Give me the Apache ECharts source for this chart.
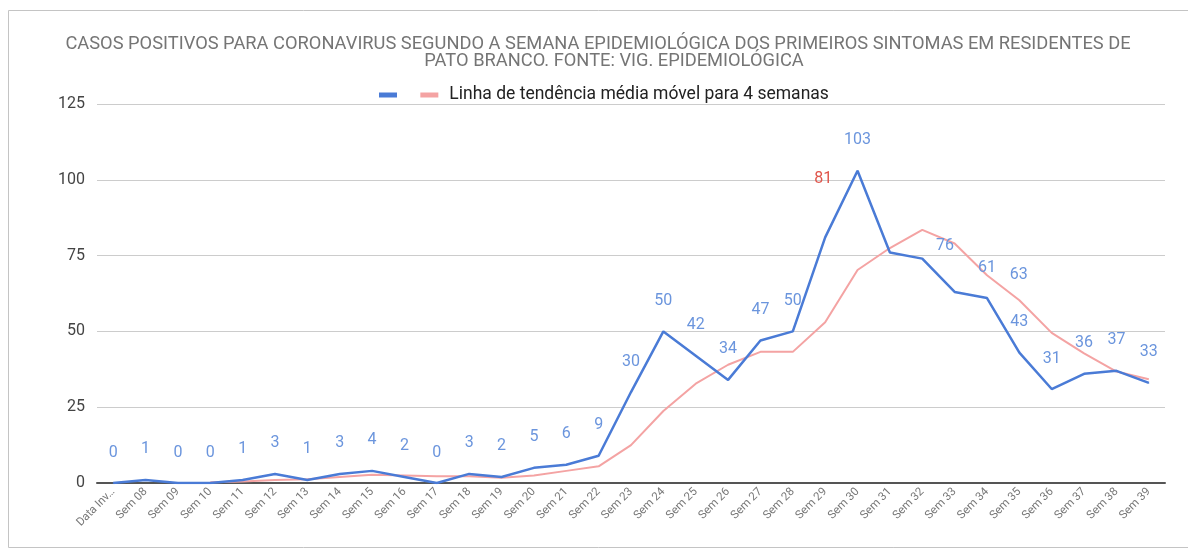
<!DOCTYPE html>
<html><head><meta charset="utf-8">
<script src="https://cdn.jsdelivr.net/npm/echarts@6/dist/echarts.min.js"></script>
<style>html,body{margin:0;padding:0;background:#fff}#c{width:1188px;height:551px}</style>
</head><body><div id="c"></div>
<script>
const categories = ['Data Inv…','Sem 08','Sem 09','Sem 10','Sem 11','Sem 12','Sem 13','Sem 14','Sem 15','Sem 16','Sem 17','Sem 18','Sem 19','Sem 20','Sem 21','Sem 22','Sem 23','Sem 24','Sem 25','Sem 26','Sem 27','Sem 28','Sem 29','Sem 30','Sem 31','Sem 32','Sem 33','Sem 34','Sem 35','Sem 36','Sem 37','Sem 38','Sem 39'];
const casos = [0,1,0,0,1,3,1,3,4,2,0,3,2,5,6,9,30,50,42,34,47,50,81,103,76,74,63,61,43,31,36,37,33];
const mediaMovel = [null,null,null,0.25,0.5,1,1.25,2,2.75,2.5,2.25,2.25,1.75,2.5,4,5.5,12.5,23.75,32.75,39,43.25,43.25,53,70.25,77.5,83.5,79,68.5,60.25,49.5,42.75,36.75,34.25];
const yTicks = [0,25,50,75,100,125];
const titleLine1 = 'CASOS POSITIVOS PARA CORONAVIRUS SEGUNDO A SEMANA EPIDEMIOLÓGICA DOS PRIMEIROS SINTOMAS EM RESIDENTES DE';
const titleLine2 = 'PATO BRANCO. FONTE: VIG. EPIDEMIOLÓGICA';
const seriesCasos = '\u00a0';
const legendTrend = 'Linha de tendência média móvel para 4 semanas';

// label placement tweaks (style only)
const labelTweaks = {
  22: {offset:[-2,-28], color:'#e0554b'},
  24: {offset:[55,24]},
  25: {show:false},
  26: {offset:[64,14]}
};

const chart = echarts.init(document.getElementById('c'), null, {renderer:'canvas'});
const blueData = casos.map((v,i)=>{
  const t = labelTweaks[i];
  return t ? {value:v, label:t} : v;
});
const FF = 'Roboto, Arial, sans-serif';
chart.setOption({
  animation:false,
  backgroundColor:'#fff',
  textStyle:{fontFamily:FF},
  graphic:[
    {type:'rect', shape:{x:8.5,y:10.5,width:1200,height:537}, style:{fill:'none', stroke:'#c4c4c4', lineWidth:1}, silent:true},
    {type:'text', x:598, y:44, style:{text:titleLine1, font:'18.3px Roboto, Arial, sans-serif', fill:'#757575', align:'center', verticalAlign:'middle'}, silent:true},
    {type:'text', x:614, y:61, style:{text:titleLine2, font:'18.3px Roboto, Arial, sans-serif', fill:'#757575', align:'center', verticalAlign:'middle'}, silent:true}
  ],
  legend:{
    top:81, left:374,
    itemWidth:18, itemHeight:5, itemGap:8,
    icon:'rect',
    textStyle:{fontSize:17.5, color:'#222', padding:[0,0,0,6]},
    data:[{name:seriesCasos},{name:legendTrend}]
  },
  grid:{left:97, right:23, top:104, bottom:68},
  xAxis:{
    type:'category', data:categories, boundaryGap:true,
    axisLine:{lineStyle:{color:'#555', width:2}},
    axisTick:{show:false},
    axisLabel:{rotate:45, fontSize:11.5, color:'#777', margin:7, interval:0}
  },
  yAxis:{
    type:'value', min:0, max:125, interval:25,
    axisLine:{show:false}, axisTick:{show:false},
    splitLine:{lineStyle:{color:'#cccccc'}},
    axisLabel:{fontSize:16, color:'#444', margin:12, formatter:(v)=> yTicks.includes(v)? String(v):''}
  },
  series:[
    {
      name:seriesCasos, type:'line', data:blueData, color:'#4a7bd6',
      symbol:'circle', symbolSize:1, showSymbol:true, itemStyle:{color:'#4a7bd6'},
      lineStyle:{width:2.5, color:'#4a7bd6'}, z:3,
      label:{show:true, position:'top', distance:22, fontSize:16, color:'#6b95dd'}
    },
    {
      name:legendTrend, type:'line', data:mediaMovel, color:'#f4a3a3',
      symbol:'none', lineStyle:{width:2, color:'#f4a3a3'}, z:2
    }
  ]
});
</script></body></html>
